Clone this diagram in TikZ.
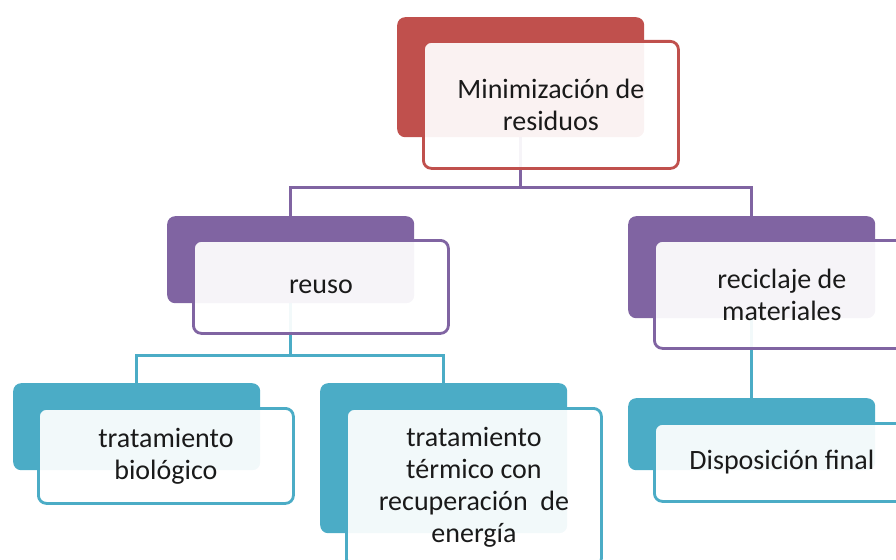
\documentclass[tikz,border=0pt]{standalone}
\usepackage{fontspec}
\setmainfont{Carlito}
\usetikzlibrary{backgrounds}
\definecolor{cred}{HTML}{C0504D}
\definecolor{cpurple}{HTML}{8064A2}
\definecolor{cteal}{HTML}{4BACC6}
\definecolor{ctext}{HTML}{1A1A1A}
\tikzset{
 backbox/.style={draw=none, fill=#1, rounded corners=8pt, anchor=north west, inner sep=0pt, minimum width=247pt},
 frontbox/.style={draw=#1, line width=2.8pt, fill=white, fill opacity=0.93, text opacity=1, rounded corners=8pt, anchor=north west, inner sep=0pt, minimum width=255pt, align=center, font=\fontsize{28}{32}\selectfont, text=ctext},
 conn/.style={draw=#1, line width=3pt},
}
\begin{document}
\begin{tikzpicture}[x=1pt,y=-1pt]
\useasboundingbox (0,0) rectangle (896,559);
% back boxes
\node[backbox=cred, minimum height=120pt] (topb) at (397,17) {};
\node[backbox=cpurple, minimum height=87pt] (reub) at (167,216) {};
\node[backbox=cpurple, minimum height=102pt] (recb) at (628,216) {};
\node[backbox=cteal, minimum height=87pt] (biob) at (13,383) {};
\node[backbox=cteal, minimum height=150pt] (terb) at (320,383) {};
\node[backbox=cteal, minimum height=72pt] (disb) at (628,398) {};
% front boxes
\node[frontbox=cred, minimum height=127pt] (topf) at (422,40) {Minimización de\\residuos};
\node[frontbox=cpurple, minimum height=93pt] (reuf) at (192,239) {reuso};
\node[frontbox=cpurple, minimum height=108pt] (recf) at (653,239) {reciclaje de\\materiales};
\node[frontbox=cteal, minimum height=95pt] (biof) at (37,407) {tratamiento\\biológico};
\node[frontbox=cteal, minimum height=158pt] (terf) at (345,407) {tratamiento\\térmico con\\recuperación\ \ de\\energía};
\node[frontbox=cteal, minimum height=78pt] (disf) at (653,422) {Disposición final};
% connectors
\begin{scope}[on background layer]
\draw[conn=cpurple] (topb.south) -- (topb.south |- 0,187) -| (reub.north);
\draw[conn=cpurple] (topb.south |- 0,187) -| (recb.north);
\draw[conn=cteal] (reub.south) -- (reub.south |- 0,355) -| (biob.north);
\draw[conn=cteal] (reub.south |- 0,355) -| (terb.north);
\draw[conn=cteal] (recb.south) -- (disb.north);
\end{scope}
\end{tikzpicture}
\end{document}
